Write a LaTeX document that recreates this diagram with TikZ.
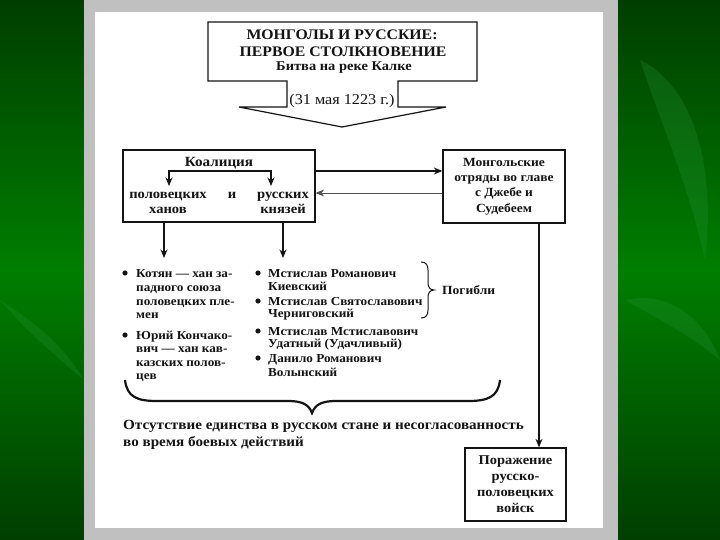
\documentclass[tikz,border=0pt]{standalone}
\usepackage{fontspec}
\setmainfont{Liberation Serif}[FakeStretch=1.08]
\usetikzlibrary{arrows.meta}
\definecolor{dkgreen}{RGB}{0,62,0}
\definecolor{mdgreen}{RGB}{0,126,0}
\definecolor{leafgreen}{RGB}{40,150,60}
\definecolor{panelgray}{RGB}{192,192,192}
\definecolor{ink}{RGB}{20,20,20}
\begin{document}
\begin{tikzpicture}[x=1pt,y=-1pt,
  box/.style={draw=ink, line width=1.3pt, inner sep=0pt, align=center, text=ink,
    font=\bfseries\fontsize{12.5}{15.4}\selectfont},
  arr/.style={draw=ink, -{Stealth[length=8.5pt,width=7pt]}, line width=1.1pt},
  txt/.style={anchor=base, inner sep=0pt, text=ink, font=\bfseries\fontsize{13.5}{14}\selectfont},
  lst/.style={anchor=base west, inner sep=0pt, text=ink, font=\bfseries\fontsize{12.2}{13}\selectfont},
  bul/.style={circle, fill=ink, inner sep=0pt, minimum size=5.2pt},
  leaf/.style={fill=leafgreen, opacity=0.25},
]
\useasboundingbox (0,0) rectangle (720,540);
% background
\shade[top color=dkgreen, bottom color=dkgreen, middle color=mdgreen] (0,0) rectangle (720,540);
\fill[leaf] (640,60) .. controls (700,90) and (715,180) .. (705,260) .. controls (690,190) and (660,120) .. (640,60) -- cycle;
\fill[leaf] (625,300) .. controls (670,290) and (705,320) .. (720,360) .. controls (690,335) and (660,320) .. (625,300) -- cycle;
\fill[leaf] (0,300) .. controls (30,320) and (60,340) .. (84,380) .. controls (55,355) and (30,335) .. (0,300) -- cycle;
\fill[panelgray] (84,0) rectangle (618,540);
\fill[white] (95,12) rectangle (603,528);

% title arrow
\draw[ink, line width=1.2pt, line join=miter] (208,22) -- (477,22) -- (477,81) -- (398,81) -- (398,107)
  -- (446,107) -- (342,127) -- (239,107) -- (287,107) -- (287,81) -- (208,81) -- cycle;
\node[txt, font=\bfseries\fontsize{14.6}{16}\selectfont] (t1) at (342,40) {МОНГОЛЫ И РУССКИЕ:};
\node[txt, font=\bfseries\fontsize{14.6}{16}\selectfont] (t2) at (343,56.5) {ПЕРВОЕ СТОЛКНОВЕНИЕ};
\node[txt, font=\bfseries\fontsize{13.4}{14}\selectfont] (t3) at (344,71) {Битва на реке Калке};
\node[txt, font=\fontsize{15}{16}\selectfont] (dt) at (342,104.5) {(31 мая 1223 г.)};

% coalition
\node[draw=ink, line width=1.3pt, minimum width=192pt, minimum height=72pt, inner sep=0pt] (coal) at (219,186) {};
\node[txt, font=\bfseries\fontsize{14}{15}\selectfont] (koal) at (219,167) {Коалиция};
\node[txt] (pol1) at (168,199) {половецких};
\node[txt] (pol2) at (168,214) {ханов};
\node[txt] (and) at (232,199) {и};
\node[txt] (rus1) at (283,199) {русских};
\node[txt] (rus2) at (283,214) {князей};
\coordinate (kb) at (218,171);
\coordinate (pa) at (169,186);
\coordinate (ra) at (271,186);
\draw[arr] (kb) -| (pa);
\draw[arr] (kb) -| (ra);

% mongols
\node[box, minimum width=122pt, minimum height=73pt] (mong) at (504,186.5)
  {Монгольские\\отряды во главе\\с Джебе и\\Судебеем};
\draw[arr] ([yshift=15pt]coal.east) -- ([yshift=15pt]coal.east -| mong.west);
\draw[arr, line width=0.8pt, draw=ink!75] ([yshift=-7pt]coal.east -| mong.west) -- ([yshift=-7pt]coal.east);

% defeat
\node[box, minimum width=101pt, minimum height=73pt, font=\bfseries\fontsize{13.4}{16}\selectfont] (def) at (515.5,484.5)
  {Поражение\\русско-\\половецких\\войск};
\draw[arr] ([xshift=35pt]mong.south) -- ([xshift=35pt]mong.south |- def.north);

% down arrows
\coordinate (la) at (164,258);
\coordinate (rb) at (283,258);
\draw[arr] (coal.south -| la) -- (la);
\draw[arr] (coal.south -| rb) -- (rb);

% left list
\foreach \t/\y [count=\i] in {Котян — хан за-/277, падного союза/291, половецких пле-/305, мен/318,
  Юрий Кончако-/339, вич — хан кав-/352, казских полов-/366, цев/379}
  \node[lst] (L\i) at (136,\y) {\t};
\node[bul] (bl1) at (125,273) {};
\node[bul] (bl2) at (125,335) {};

% right list
\foreach \t/\y [count=\i] in {Мстислав Романович/277, Киевский/290, Мстислав Святославович/305, Черниговский/317,
  Мстислав Мстиславович/335, Удатный (Удачливый)/347, Данило Романович/362, Волынский/376}
  \node[lst] (R\i) at (268,\y) {\t};
\node[bul] (br1) at (258,273) {};
\node[bul] (br2) at (258,301) {};
\node[bul] (br3) at (258,331) {};
\node[bul] (br4) at (258,358) {};

% right brace
\draw[ink, line width=1pt] (421,262) .. controls (426,262) and (428,265) .. (428,270) -- (428,283)
  .. controls (428,287) and (430,290) .. (434,290) .. controls (430,290) and (428,293) .. (428,297)
  -- (428,310) .. controls (428,315) and (426,318) .. (421,318);
\node[lst, font=\bfseries\fontsize{12.5}{14}\selectfont] (pog) at (442,294) {Погибли};

% bottom brace
\draw[ink, line width=2.2pt] (125,380) .. controls (127,397) and (137,401) .. (157,401) -- (288,401)
  .. controls (303,401) and (309,405) .. (312,413) .. controls (315,405) and (321,401) .. (336,401)
  -- (468,401) .. controls (488,401) and (498,397) .. (500,380);
\node[lst, font=\bfseries\fontsize{14}{15}\selectfont] (b1) at (123,429) {Отсутствие единства в русском стане и несогласованность};
\node[lst, font=\bfseries\fontsize{14}{15}\selectfont] (b2) at (123,446) {во время боевых действий};
\end{tikzpicture}
\end{document}
